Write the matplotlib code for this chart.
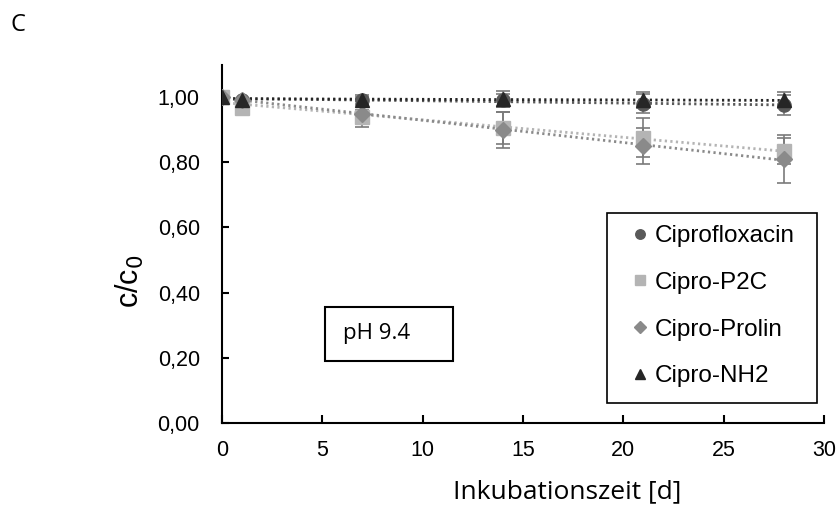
import numpy as np
import matplotlib.pyplot as plt
from matplotlib.lines import Line2D
from matplotlib.patches import Rectangle

# Inkubationszeit [d]
days = [0, 1, 7, 14, 21, 28]

names = ["Ciprofloxacin", "Cipro-P2C", "Cipro-Prolin", "Cipro-NH2"]
cipro = [1.00, 0.99, 0.99, 0.99, 0.98, 0.975]
p2c = [1.00, 0.967, 0.94, 0.905, 0.875, 0.835]
prolin = [1.00, 0.99, 0.948, 0.90, 0.85, 0.81]
nh2 = [1.00, 0.99, 0.992, 0.995, 0.99, 0.99]

cipro_err = [0.0, 0.005, 0.01, 0.02, 0.03, 0.03]
p2c_err = [0.0, 0.005, 0.02, 0.05, 0.06, 0.04]
prolin_err = [0.0, 0.005, 0.04, 0.055, 0.055, 0.075]
nh2_err = [0.0, 0.005, 0.015, 0.025, 0.025, 0.025]

yticks = [0.0, 0.2, 0.4, 0.6, 0.8, 1.0]
xticks = [0, 5, 10, 15, 20, 25, 30]

series = [cipro, p2c, prolin, nh2]
errs = [cipro_err, p2c_err, prolin_err, nh2_err]
markers = ["o", "s", "D", "^"]
msizes = [9.5, 9.5, 8, 9.5]
colors = ["#595959", "#b4b4b4", "#8a8a8a", "#262626"]

plt.rcParams['font.family'] = ['Liberation Sans', 'DejaVu Sans']

W, H = 840, 508
fig = plt.figure(figsize=(8.4, 5.08), dpi=100)
ax = fig.add_axes([222/W, 1 - 423/H, 602/W, (423 - 64.5)/H])

x = np.array(days, dtype=float)
xfit = np.array([0, 28])
handles = []
for y, e, m, ms, c, n in zip(series, errs, markers, msizes, colors, names):
    y = np.array(y)
    k, d = np.polyfit(x, y, 1)
    ax.plot(xfit, k*xfit + d, color=c, lw=2, linestyle=(0, (0.8, 1.2)), zorder=2)
    ax.errorbar(x, y, yerr=e, fmt=m, ms=ms, color=c, ecolor="#7a7a7a",
                elinewidth=1.2, capsize=5, capthick=1.2, zorder=3)
    handles.append(Line2D([], [], ls='none', marker=m, ms=ms*0.72, color=c, label=n))

ax.set_xlim(0, 30)
ax.set_ylim(0, 1.1)
ax.set_xticks(xticks)
ax.set_yticks(yticks)
ax.set_yticklabels([f"{v:.2f}".replace(".", ",") for v in yticks])
for s in ["top", "right"]:
    ax.spines[s].set_visible(False)
for s in ["left", "bottom"]:
    ax.spines[s].set_linewidth(1.5)
ax.tick_params(axis='y', direction='in', length=5, width=1.5, labelsize=15.5, pad=16)
ax.tick_params(axis='x', direction='in', length=6, width=1.5, labelsize=15.5, pad=12)

ax.set_ylabel("c/c$_0$", fontsize=22)
ax.yaxis.set_label_coords((130 - 222)/602, (423 - 281)/358.5)
ax.set_xlabel("Inkubationszeit [d]", fontsize=19, family=['Open Sans'])
ax.xaxis.set_label_coords((567 - 222)/602, -(492 - 423)/358.5)
ax.xaxis.label.set_va('center')
ax.yaxis.label.set_va('center')

# legend frame
fig.patches.append(Rectangle((607/W, 1 - 403/H), 210/W, 190/H, transform=fig.transFigure,
                             fill=False, ec='black', lw=1.2))
leg = fig.legend(handles=handles, loc='upper left', bbox_to_anchor=(633/W, 1 - 225/H),
                 fontsize=17.5, frameon=False, handlelength=0.6, handletextpad=0.3,
                 labelspacing=1.02, borderpad=0, borderaxespad=0)

# pH box
fig.patches.append(Rectangle((325/W, 1 - 361/H), 128/W, 54/H, transform=fig.transFigure,
                             fc='white', ec='black', lw=1.5))
fig.text(343/W, 1 - 333/H, "pH 9.4", fontsize=16, family=['Open Sans'], va='center')

fig.text(11/W, 1 - 25/H, "C", fontsize=17, family=['Open Sans'], va='center')

fig.savefig("out.png", dpi=100)
